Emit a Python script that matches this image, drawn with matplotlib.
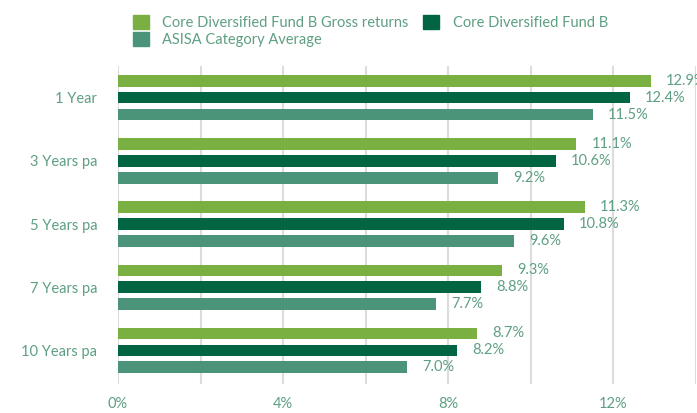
import matplotlib.pyplot as plt
from matplotlib.patches import Patch
import numpy as np

periods = ['1 Year', '3 Years pa', '5 Years pa', '7 Years pa', '10 Years pa']
gross = [12.9, 11.1, 11.3, 9.3, 8.7]
fund_b = [12.4, 10.6, 10.8, 8.8, 8.2]
asisa = [11.5, 9.2, 9.6, 7.7, 7.0]

series = [
    ('Core Diversified Fund B Gross returns', gross, '#7aaf42'),
    ('Core Diversified Fund B', fund_b, '#006540'),
    ('ASISA Category Average', asisa, '#4c9479'),
]
text_col = '#5e9f82'

plt.rcParams['font.family'] = ['Lato', 'DejaVu Sans']

fig = plt.figure(figsize=(6.97, 4.13), dpi=100)
ax = fig.add_axes([118 / 697, 1 - 384 / 413, 578 / 697, 318 / 413])

y = np.arange(len(periods))
offset = 0.268
height = 0.18
for i, (name, vals, col) in enumerate(series):
    pos = y + (i - 1) * offset
    ax.barh(pos, vals, height=height, color=col, label=name, zorder=3)
    for p, v in zip(pos, vals):
        ax.text(v + 0.37, p, f'{v:.1f}%', va='center', ha='left',
                fontsize=10.5, color=text_col, zorder=4)

ax.set_xlim(0, 14)
ax.set_ylim(4.535, -0.504)
ax.set_xticks(np.arange(0, 15, 2))
ax.set_xticklabels([f'{t}%' if t % 4 == 0 else '' for t in range(0, 15, 2)])
ax.set_yticks(y)
ax.set_yticklabels(periods)
ax.tick_params(axis='x', length=0, pad=9, labelsize=10.5, labelcolor=text_col)
ax.tick_params(axis='y', length=0, pad=15, labelsize=10.5, labelcolor=text_col)
ax.grid(axis='x', color='#dcdcdc', linewidth=1.5, zorder=0)
for s in ax.spines.values():
    s.set_visible(False)

handles = [Patch(color=c) for _, _, c in series]
labels = [n for n, _, _ in series]
order = [0, 2, 1]
fig.legend([handles[k] for k in order], [labels[k] for k in order],
           ncol=2, loc='upper left', bbox_to_anchor=(126 / 697, 1 - 8 / 413),
           frameon=False, fontsize=10.5, labelcolor=text_col,
           handlelength=1.1, handleheight=1.1, handletextpad=0.9,
           columnspacing=1.0, labelspacing=0.15, borderpad=0)

plt.savefig('out.png', dpi=100)
